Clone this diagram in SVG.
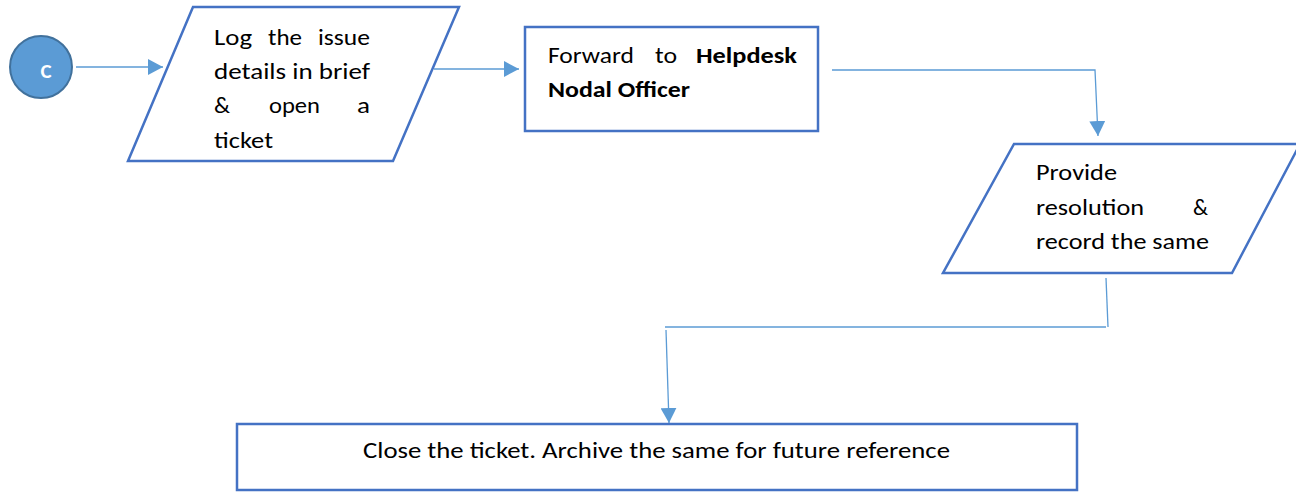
<svg xmlns="http://www.w3.org/2000/svg" width="1296" height="495" viewBox="0 0 1296 495">
<defs>
<style>
.shape{fill:#FFFFFF;stroke:#4472C4;stroke-width:2.5}
.conn{fill:none;stroke:#5B9BD5;stroke-width:1.3}
.t{font-family:Carlito,Lato,"Liberation Sans",sans-serif;font-size:21.5px;fill:#000000}
.b{font-weight:bold}
</style>
<marker id="ah" viewBox="0 0 15 16" refX="15" refY="8" markerWidth="15" markerHeight="16" markerUnits="userSpaceOnUse" orient="auto">
<path d="M0,0 L15,8 L0,16 Z" fill="#5B9BD5"/>
</marker>
</defs>
<rect width="1296" height="495" fill="#FFFFFF"/>
<g id="connectors">
<path class="conn" d="M76,67 L163,67" marker-end="url(#ah)"/>
<path class="conn" d="M434,69 L519,69" marker-end="url(#ah)"/>
<path class="conn" d="M832,70 L1095,70 L1098,136" marker-end="url(#ah)"/>
<path class="conn" d="M1106,278 L1108,327"/>
<path class="conn" d="M665,327 L1106,327"/>
<path class="conn" d="M666,330 L669,423" marker-end="url(#ah)"/>
</g>
<g id="node-c">
<circle cx="41" cy="67" r="31" fill="#5B9BD5" stroke="#41719C" stroke-width="2"/>
<text x="46" y="78" text-anchor="middle" font-family="Carlito,Lato,'Liberation Sans',sans-serif" font-size="21" font-weight="bold" fill="#FFFFFF">C</text>
</g>
<g id="node-log">
<polygon class="shape" points="193,7 459,7 393,161 128,161"/>
<text class="t" x="214" y="45" textLength="38" lengthAdjust="spacingAndGlyphs">Log</text>
<text class="t" x="268" y="45" textLength="34" lengthAdjust="spacingAndGlyphs">the</text>
<text class="t" x="318" y="45" textLength="52" lengthAdjust="spacingAndGlyphs">issue</text>
<text class="t" x="214" y="79" textLength="156" lengthAdjust="spacingAndGlyphs">details in brief</text>
<text class="t" x="214" y="113" textLength="16" lengthAdjust="spacingAndGlyphs">&amp;</text>
<text class="t" x="269" y="113" textLength="51" lengthAdjust="spacingAndGlyphs">open</text>
<text class="t" x="357" y="113" textLength="13" lengthAdjust="spacingAndGlyphs">a</text>
<text class="t" x="214" y="148" textLength="59" lengthAdjust="spacingAndGlyphs">ticket</text>
</g>
<g id="node-forward">
<rect class="shape" x="525" y="27" width="293" height="104"/>
<text class="t" x="548" y="63" textLength="86" lengthAdjust="spacingAndGlyphs">Forward</text>
<text class="t" x="655" y="63" textLength="22" lengthAdjust="spacingAndGlyphs">to</text>
<text class="t b" x="696" y="63" textLength="101" lengthAdjust="spacingAndGlyphs">Helpdesk</text>
<text class="t b" x="548" y="97" textLength="142" lengthAdjust="spacingAndGlyphs">Nodal Officer</text>
</g>
<g id="node-provide">
<polygon class="shape" points="1014,144 1300,144 1232,273 943,273"/>
<text class="t" x="1036" y="180" textLength="81" lengthAdjust="spacingAndGlyphs">Provide</text>
<text class="t" x="1036" y="215" textLength="108" lengthAdjust="spacingAndGlyphs">resolution</text>
<text class="t" x="1193" y="215" textLength="15" lengthAdjust="spacingAndGlyphs">&amp;</text>
<text class="t" x="1036" y="249" textLength="173" lengthAdjust="spacingAndGlyphs">record the same</text>
</g>
<g id="node-close">
<rect class="shape" x="237" y="424" width="840" height="66"/>
<text class="t" x="363" y="458" textLength="587" lengthAdjust="spacingAndGlyphs">Close the ticket. Archive the same for future reference</text>
</g>
</svg>
